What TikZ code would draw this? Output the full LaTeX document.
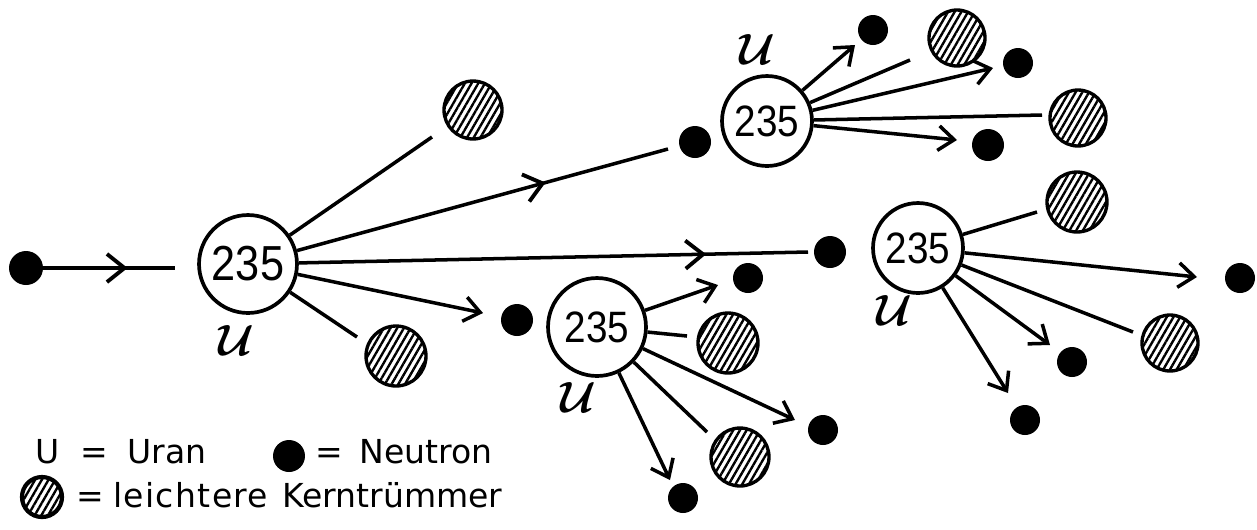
\documentclass[tikz,border=0pt]{standalone}
\usepackage{fontspec}
\setmainfont{DejaVu Sans}
\newfontfamily\numfont[FakeStretch=0.88]{Liberation Sans}
\usetikzlibrary{arrows.meta,decorations.markings,patterns.meta}
\tikzset{
  uran/.style={circle, draw, line width=2.1pt, inner sep=0pt, minimum size=#1*0.04cm},
  bignum/.style={font=\numfont\fontsize{28}{28}\selectfont},
  smallnum/.style={font=\numfont\fontsize{25}{25}\selectfont},
  neutron/.style={circle, fill=black, inner sep=0pt, minimum size=#1*0.04cm},
  neutron/.default=15,
  frag/.style={circle, draw, line width=1.9pt, inner sep=0pt, minimum size=#1*0.04cm,
    pattern={Lines[angle=60,distance=3.3pt,line width=1.35pt]}},
  frag/.default=29,
  conn/.style={line width=2pt},
  endarrow/.style={-{Straight Barb[length=9pt,width=14pt,line width=2pt]}},
  midarrow/.style={postaction={decorate}, decoration={markings,
    mark=at position #1 with {\arrow{Straight Barb[length=10pt,width=16pt,line width=2.2pt]}}}},
  ulabel/.style={font=\boldmath\fontsize{#1}{#1}\selectfont, inner sep=0pt},
  legend/.style={font=\fontsize{18.8}{20}\selectfont, inner sep=0pt, anchor=base west},
}
\begin{document}
\begin{tikzpicture}[x=0.02cm, y=-0.02cm]
\useasboundingbox (0,0) rectangle (1257,529);

% ---------- main fission ----------
\node[neutron=17] (n0) at (26,268) {};
\coordinate (a0) at (175,268);
\node[uran=49, bignum] (U1) at (248,264) {235};
\node[ulabel=31] (L1) at (236,340) {$\mathcal{U}$};

\node[frag] (f1) at (473,110) {};
\node[frag=30] (f2) at (396,356) {};
\node[neutron=16] (n1) at (695,142) {};
\node[neutron=16] (n2) at (830,252) {};
\node[neutron=16] (n3) at (517,320) {};

\coordinate (e11) at (432,137);
\coordinate (e12) at (668,149);
\coordinate (e13) at (808,252);
\coordinate (e14) at (483,313);
\coordinate (e15) at (357,337);

\draw[conn, midarrow=0.64] (n0) -- (a0);
\draw[conn] (U1) -- (e11);
\draw[conn, midarrow=0.67] (U1) -- (e12);
\draw[conn, midarrow=0.8] (U1) -- (e13);
\draw[conn, endarrow] (U1) -- (e14);
\draw[conn] (U1) -- (e15);

% ---------- top fission ----------
\node[uran=45, smallnum] (U2) at (767,121) {235};
\node[ulabel=26] (L2) at (757,49) {$\mathcal{U}$};
\node[neutron] (n21) at (873,30) {};
\node[frag=28] (f21) at (957,38) {};
\node[neutron] (n22) at (1018,63) {};
\node[frag=28] (f22) at (1078,118) {};
\node[neutron=16] (n23) at (988,145) {};
\coordinate (e21) at (855,45);
\coordinate (e22) at (910,60);
\coordinate (e23) at (993,68);
\coordinate (e24) at (1042,115);
\coordinate (e25) at (957,140);
\draw[conn, endarrow] (U2) -- (e21);
\draw[conn] (U2) -- (e22);
\draw[conn, endarrow] (U2) -- (e23);
\draw[conn] (U2) -- (e24);
\draw[conn, endarrow] (U2) -- (e25);

% ---------- bottom fission ----------
\node[uran=49, smallnum] (U3) at (597,327) {235};
\node[ulabel=27] (L3) at (578,397) {$\mathcal{U}$};
\node[neutron] (n31) at (748,278) {};
\node[frag=30] (f31) at (728,343) {};
\node[neutron] (n32) at (823,430) {};
\node[frag=29] (f32) at (740,457) {};
\node[neutron] (n33) at (683,498) {};
\coordinate (e31) at (718,285);
\coordinate (e32) at (687,336);
\coordinate (e33) at (795,420);
\coordinate (e34) at (707,432);
\coordinate (e35) at (670,480);
\draw[conn, endarrow] (U3) -- (e31);
\draw[conn] (U3) -- (e32);
\draw[conn, endarrow] (U3) -- (e33);
\draw[conn] (U3) -- (e34);
\draw[conn, endarrow] (U3) -- (e35);

% ---------- right fission ----------
\node[uran=45, smallnum] (U4) at (918,248) {235};
\node[ulabel=27] (L4) at (894,310) {$\mathcal{U}$};
\node[frag=30] (f41) at (1077,202) {};
\node[neutron] (n41) at (1240,278) {};
\node[frag=28] (f42) at (1170,343) {};
\node[neutron] (n42) at (1072,362) {};
\node[neutron] (n43) at (1025,420) {};
\coordinate (e41) at (1037,212);
\coordinate (e42) at (1197,277);
\coordinate (e43) at (1133,332);
\coordinate (e44) at (1050,345);
\coordinate (e45) at (1008,393);
\draw[conn] (U4) -- (e41);
\draw[conn, endarrow] (U4) -- (e42);
\draw[conn] (U4) -- (e43);
\draw[conn, endarrow] (U4) -- (e44);
\draw[conn, endarrow] (U4) -- (e45);

% ---------- legend ----------
\node[legend] (lu) at (35,463) {U};
\node[legend] (leq1) at (80,463) {=};
\node[legend] (luran) at (127,463) {Uran};
\node[neutron=16] (ln) at (289,456) {};
\node[legend] (leq2) at (315,463) {=};
\node[legend] (lneu) at (359,463) {Neutron};
\node[frag=20, line width=2.4pt] (lf) at (42,497) {};
\node[legend] (leq3) at (76,507) {=};
\node[legend] (lleicht) at (113,507) {\addfontfeatures{LetterSpace=4}leichtere};
\node[legend] (lkern) at (282,507) {Kerntrümmer};
\end{tikzpicture}
\end{document}
